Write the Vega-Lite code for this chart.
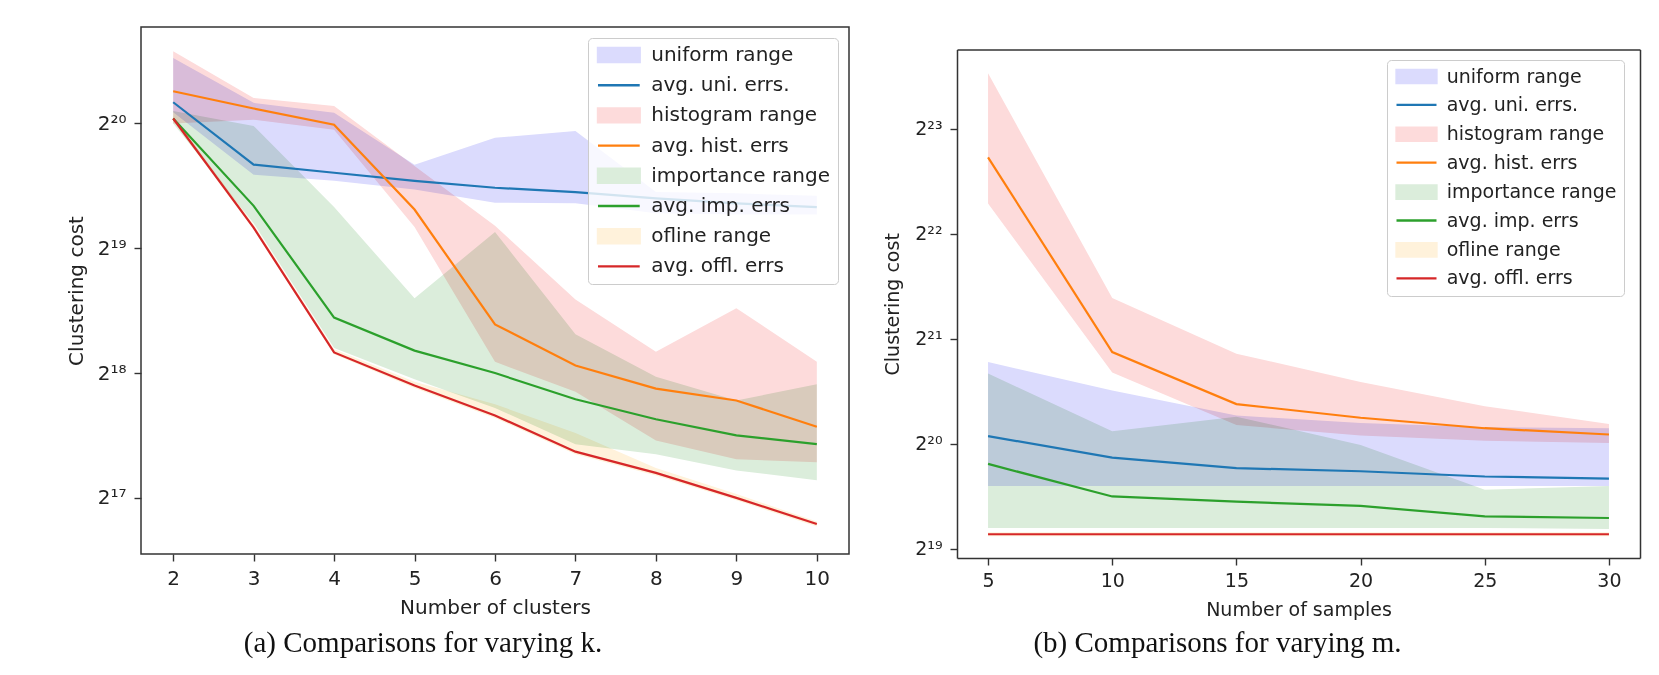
{
  "$schema": "https://vega.github.io/schema/vega-lite/v6.json",
  "background": "white",
  "padding": {"left": 65, "top": 26, "right": 5, "bottom": 5},
  "spacing": 33,
  "resolve": {"scale": {"color": "independent"}, "legend": {"color": "independent"}},
  "config": {
    "font": "DejaVu Sans",
    "view": {"stroke": "#333333", "strokeWidth": 1.5},
    "axis": {"domain": false, "grid": false, "domainColor": "#333333", "domainWidth": 1.5, "tickColor": "#333333", "tickSize": 7, "tickWidth": 1.4, "labelColor": "#222222", "titleColor": "#222222", "titleFontWeight": "normal", "labelFont": "DejaVu Sans", "titleFont": "DejaVu Sans"},
    "legend": {"title": null, "labelColor": "#222222", "labelFont": "DejaVu Sans", "labelLimit": 400, "symbolSize": 196, "padding": 7, "fillColor": "rgba(255,255,255,0.8)", "strokeColor": "#cccccc", "cornerRadius": 4},
    "title": {"font": "Liberation Serif", "fontSize": 29, "fontWeight": "normal", "color": "#111111"}
  },
  "datasets": {
    "k_ranges": [
      {"k": 2, "series": "uniform range", "log2_low": 20.09, "log2_high": 20.525},
      {"k": 3, "series": "uniform range", "log2_low": 19.59, "log2_high": 20.165},
      {"k": 4, "series": "uniform range", "log2_low": 19.54, "log2_high": 20.085},
      {"k": 5, "series": "uniform range", "log2_low": 19.47, "log2_high": 19.67},
      {"k": 6, "series": "uniform range", "log2_low": 19.365, "log2_high": 19.885},
      {"k": 7, "series": "uniform range", "log2_low": 19.36, "log2_high": 19.94},
      {"k": 8, "series": "uniform range", "log2_low": 19.28, "log2_high": 19.45},
      {"k": 9, "series": "uniform range", "log2_low": 19.27, "log2_high": 19.44},
      {"k": 10, "series": "uniform range", "log2_low": 19.27, "log2_high": 19.42},
      {"k": 2, "series": "histogram range", "log2_low": 20.0, "log2_high": 20.578},
      {"k": 3, "series": "histogram range", "log2_low": 20.03, "log2_high": 20.205},
      {"k": 4, "series": "histogram range", "log2_low": 19.95, "log2_high": 20.14},
      {"k": 5, "series": "histogram range", "log2_low": 19.17, "log2_high": 19.66},
      {"k": 6, "series": "histogram range", "log2_low": 18.09, "log2_high": 19.18},
      {"k": 7, "series": "histogram range", "log2_low": 17.85, "log2_high": 18.59},
      {"k": 8, "series": "histogram range", "log2_low": 17.46, "log2_high": 18.17},
      {"k": 9, "series": "histogram range", "log2_low": 17.31, "log2_high": 18.52},
      {"k": 10, "series": "histogram range", "log2_low": 17.285, "log2_high": 18.09},
      {"k": 2, "series": "importance range", "log2_low": 20.0, "log2_high": 20.1},
      {"k": 3, "series": "importance range", "log2_low": 19.2, "log2_high": 19.98},
      {"k": 4, "series": "importance range", "log2_low": 18.2, "log2_high": 19.33},
      {"k": 5, "series": "importance range", "log2_low": 17.95, "log2_high": 18.6},
      {"k": 6, "series": "importance range", "log2_low": 17.72, "log2_high": 19.13},
      {"k": 7, "series": "importance range", "log2_low": 17.43, "log2_high": 18.31},
      {"k": 8, "series": "importance range", "log2_low": 17.35, "log2_high": 17.97},
      {"k": 9, "series": "importance range", "log2_low": 17.22, "log2_high": 17.78},
      {"k": 10, "series": "importance range", "log2_low": 17.14, "log2_high": 17.91},
      {"k": 2, "series": "ofline range", "log2_low": 20.02, "log2_high": 20.06},
      {"k": 3, "series": "ofline range", "log2_low": 19.15, "log2_high": 19.19},
      {"k": 4, "series": "ofline range", "log2_low": 18.15, "log2_high": 18.19},
      {"k": 5, "series": "ofline range", "log2_low": 17.88, "log2_high": 17.93},
      {"k": 6, "series": "ofline range", "log2_low": 17.64, "log2_high": 17.75},
      {"k": 7, "series": "ofline range", "log2_low": 17.35, "log2_high": 17.52},
      {"k": 8, "series": "ofline range", "log2_low": 17.18, "log2_high": 17.24},
      {"k": 9, "series": "ofline range", "log2_low": 16.98, "log2_high": 17.03},
      {"k": 10, "series": "ofline range", "log2_low": 16.77, "log2_high": 16.81}
    ],
    "k_avgs": [
      {"k": 2, "series": "avg. uni. errs.", "log2_cost": 20.17},
      {"k": 3, "series": "avg. uni. errs.", "log2_cost": 19.67},
      {"k": 4, "series": "avg. uni. errs.", "log2_cost": 19.605},
      {"k": 5, "series": "avg. uni. errs.", "log2_cost": 19.54},
      {"k": 6, "series": "avg. uni. errs.", "log2_cost": 19.485},
      {"k": 7, "series": "avg. uni. errs.", "log2_cost": 19.45},
      {"k": 8, "series": "avg. uni. errs.", "log2_cost": 19.4},
      {"k": 9, "series": "avg. uni. errs.", "log2_cost": 19.36},
      {"k": 10, "series": "avg. uni. errs.", "log2_cost": 19.33},
      {"k": 2, "series": "avg. hist. errs", "log2_cost": 20.258},
      {"k": 3, "series": "avg. hist. errs", "log2_cost": 20.12},
      {"k": 4, "series": "avg. hist. errs", "log2_cost": 19.99},
      {"k": 5, "series": "avg. hist. errs", "log2_cost": 19.31},
      {"k": 6, "series": "avg. hist. errs", "log2_cost": 18.39},
      {"k": 7, "series": "avg. hist. errs", "log2_cost": 18.06},
      {"k": 8, "series": "avg. hist. errs", "log2_cost": 17.875},
      {"k": 9, "series": "avg. hist. errs", "log2_cost": 17.78},
      {"k": 10, "series": "avg. hist. errs", "log2_cost": 17.57},
      {"k": 2, "series": "avg. imp. errs", "log2_cost": 20.04},
      {"k": 3, "series": "avg. imp. errs", "log2_cost": 19.34},
      {"k": 4, "series": "avg. imp. errs", "log2_cost": 18.445},
      {"k": 5, "series": "avg. imp. errs", "log2_cost": 18.18},
      {"k": 6, "series": "avg. imp. errs", "log2_cost": 18.0},
      {"k": 7, "series": "avg. imp. errs", "log2_cost": 17.79},
      {"k": 8, "series": "avg. imp. errs", "log2_cost": 17.63},
      {"k": 9, "series": "avg. imp. errs", "log2_cost": 17.5},
      {"k": 10, "series": "avg. imp. errs", "log2_cost": 17.43},
      {"k": 2, "series": "avg. offl. errs", "log2_cost": 20.04},
      {"k": 3, "series": "avg. offl. errs", "log2_cost": 19.165},
      {"k": 4, "series": "avg. offl. errs", "log2_cost": 18.165},
      {"k": 5, "series": "avg. offl. errs", "log2_cost": 17.9},
      {"k": 6, "series": "avg. offl. errs", "log2_cost": 17.66},
      {"k": 7, "series": "avg. offl. errs", "log2_cost": 17.37},
      {"k": 8, "series": "avg. offl. errs", "log2_cost": 17.2},
      {"k": 9, "series": "avg. offl. errs", "log2_cost": 17.0},
      {"k": 10, "series": "avg. offl. errs", "log2_cost": 16.79}
    ],
    "m_ranges": [
      {"m": 5, "series": "uniform range", "log2_low": 19.6, "log2_high": 20.78},
      {"m": 10, "series": "uniform range", "log2_low": 19.6, "log2_high": 20.51},
      {"m": 15, "series": "uniform range", "log2_low": 19.6, "log2_high": 20.27},
      {"m": 20, "series": "uniform range", "log2_low": 19.6, "log2_high": 20.2},
      {"m": 25, "series": "uniform range", "log2_low": 19.6, "log2_high": 20.16},
      {"m": 30, "series": "uniform range", "log2_low": 19.6, "log2_high": 20.15},
      {"m": 5, "series": "histogram range", "log2_low": 22.29, "log2_high": 23.53},
      {"m": 10, "series": "histogram range", "log2_low": 20.68, "log2_high": 21.39},
      {"m": 15, "series": "histogram range", "log2_low": 20.18, "log2_high": 20.86},
      {"m": 20, "series": "histogram range", "log2_low": 20.08, "log2_high": 20.59},
      {"m": 25, "series": "histogram range", "log2_low": 20.03, "log2_high": 20.36},
      {"m": 30, "series": "histogram range", "log2_low": 20.01, "log2_high": 20.19},
      {"m": 5, "series": "importance range", "log2_low": 19.2, "log2_high": 20.67},
      {"m": 10, "series": "importance range", "log2_low": 19.2, "log2_high": 20.12},
      {"m": 15, "series": "importance range", "log2_low": 19.2, "log2_high": 20.26},
      {"m": 20, "series": "importance range", "log2_low": 19.2, "log2_high": 19.99},
      {"m": 25, "series": "importance range", "log2_low": 19.2, "log2_high": 19.565},
      {"m": 30, "series": "importance range", "log2_low": 19.19, "log2_high": 19.6},
      {"m": 5, "series": "ofline range", "log2_low": 19.12, "log2_high": 19.16},
      {"m": 10, "series": "ofline range", "log2_low": 19.12, "log2_high": 19.16},
      {"m": 15, "series": "ofline range", "log2_low": 19.12, "log2_high": 19.16},
      {"m": 20, "series": "ofline range", "log2_low": 19.12, "log2_high": 19.16},
      {"m": 25, "series": "ofline range", "log2_low": 19.12, "log2_high": 19.16},
      {"m": 30, "series": "ofline range", "log2_low": 19.12, "log2_high": 19.16}
    ],
    "m_avgs": [
      {"m": 5, "series": "avg. uni. errs.", "log2_cost": 20.075},
      {"m": 10, "series": "avg. uni. errs.", "log2_cost": 19.87},
      {"m": 15, "series": "avg. uni. errs.", "log2_cost": 19.77},
      {"m": 20, "series": "avg. uni. errs.", "log2_cost": 19.74},
      {"m": 25, "series": "avg. uni. errs.", "log2_cost": 19.69},
      {"m": 30, "series": "avg. uni. errs.", "log2_cost": 19.67},
      {"m": 5, "series": "avg. hist. errs", "log2_cost": 22.73},
      {"m": 10, "series": "avg. hist. errs", "log2_cost": 20.875},
      {"m": 15, "series": "avg. hist. errs", "log2_cost": 20.38},
      {"m": 20, "series": "avg. hist. errs", "log2_cost": 20.25},
      {"m": 25, "series": "avg. hist. errs", "log2_cost": 20.15},
      {"m": 30, "series": "avg. hist. errs", "log2_cost": 20.09},
      {"m": 5, "series": "avg. imp. errs", "log2_cost": 19.81},
      {"m": 10, "series": "avg. imp. errs", "log2_cost": 19.5},
      {"m": 15, "series": "avg. imp. errs", "log2_cost": 19.45},
      {"m": 20, "series": "avg. imp. errs", "log2_cost": 19.41},
      {"m": 25, "series": "avg. imp. errs", "log2_cost": 19.31},
      {"m": 30, "series": "avg. imp. errs", "log2_cost": 19.295},
      {"m": 5, "series": "avg. offl. errs", "log2_cost": 19.14},
      {"m": 10, "series": "avg. offl. errs", "log2_cost": 19.14},
      {"m": 15, "series": "avg. offl. errs", "log2_cost": 19.14},
      {"m": 20, "series": "avg. offl. errs", "log2_cost": 19.14},
      {"m": 25, "series": "avg. offl. errs", "log2_cost": 19.14},
      {"m": 30, "series": "avg. offl. errs", "log2_cost": 19.14}
    ]
  },
  "hconcat": [
    {
      "width": 708,
      "height": 527,
      "title": {"text": "(a) Comparisons for varying k.", "orient": "bottom", "anchor": "middle", "offset": 12, "dx": -72},
      "layer": [
        {
          "data": {"name": "k_ranges"},
          "mark": {"type": "area", "opacity": 1, "blend": "multiply"},
          "encoding": {
            "x": {"field": "k", "type": "quantitative", "scale": {"domain": [1.6, 10.4], "nice": false, "zero": false},
              "axis": {"title": "Number of clusters", "values": [2, 3, 4, 5, 6, 7, 8, 9, 10], "format": "d", "labelFontSize": 20, "titleFontSize": 20, "labelPadding": 7, "titlePadding": 9}},
            "y": {"field": "log2_low", "type": "quantitative", "scale": {"domain": [16.55, 20.773], "nice": false, "zero": false},
              "axis": {"title": "Clustering cost", "values": [17, 18, 19, 20], "labelExpr": "datum.value == 17 ? '2¹⁷' : datum.value == 18 ? '2¹⁸' : datum.value == 19 ? '2¹⁹' : '2²⁰'", "labelFontSize": 20, "titleFontSize": 20, "labelPadding": 8, "titlePadding": 11, "minExtent": 44, "maxExtent": 44}},
            "y2": {"field": "log2_high"},
            "color": {"field": "series", "type": "nominal",
              "scale": {"domain": ["uniform range", "avg. uni. errs.", "histogram range", "avg. hist. errs", "importance range", "avg. imp. errs", "ofline range", "avg. offl. errs"],
                        "range": ["#dbdbfd", "#1f77b4", "#fddbdb", "#ff7f0e", "#dbeddb", "#2ca02c", "#fff2db", "#d62728"]},
              "legend": {"orient": "top-right", "offset": 11, "labelFontSize": 20, "rowPadding": 8.2, "symbolOffset": 13.85, "labelOffset": 22.4,
                "encode": {"symbols": {"update": {
                  "shape": {"signal": "indexof(datum.value, 'range') >= 0 ? 'M-2.98,-1H2.98V1H-2.98Z' : 'M-2.98,0H2.98'"},
                  "strokeWidth": {"value": 2.4},
                  "opacity": {"value": 1}
                }}}}
            }
          }
        },
        {
          "data": {"name": "k_avgs"},
          "mark": {"type": "line", "strokeWidth": 2.2},
          "encoding": {
            "x": {"field": "k", "type": "quantitative", "scale": {"domain": [1.6, 10.4], "nice": false, "zero": false}},
            "y": {"field": "log2_cost", "type": "quantitative", "scale": {"domain": [16.55, 20.773], "nice": false, "zero": false}},
            "color": {"field": "series", "type": "nominal",
              "legend": {"orient": "top-right", "offset": 11, "labelFontSize": 20, "rowPadding": 8.2, "symbolOffset": 13.85, "labelOffset": 22.4,
                "encode": {"symbols": {"update": {
                  "shape": {"signal": "indexof(datum.value, 'range') >= 0 ? 'M-2.98,-1H2.98V1H-2.98Z' : 'M-2.98,0H2.98'"},
                  "strokeWidth": {"value": 2.4},
                  "opacity": {"value": 1}
                }}}}
            }
          }
        }
      ]
    },
    {
      "width": 683,
      "height": 531,
      "view": {"stroke": null},
      "title": {"text": "(b) Comparisons for varying m.", "orient": "bottom", "anchor": "middle", "offset": 10, "dx": -81},
      "resolve": {"axis": {"x": "independent", "y": "independent"}},
      "layer": [
        {
          "data": {"name": "m_ranges"},
          "mark": {"type": "area", "opacity": 1, "blend": "multiply"},
          "encoding": {
            "x": {"field": "m", "type": "quantitative", "scale": {"domain": [3.75, 31.25], "nice": false, "zero": false},
              "axis": {"orient": "bottom", "domain": true, "title": "Number of samples", "values": [5, 10, 15, 20, 25, 30], "format": "d", "labelFontSize": 19, "titleFontSize": 19, "labelPadding": 6, "titlePadding": 10}},
            "y": {"field": "log2_low", "type": "quantitative", "scale": {"domain": [18.914, 23.756], "range": [531, 22.6], "nice": false, "zero": false},
              "axis": {"orient": "left", "domain": true, "title": "Clustering cost", "values": [19, 20, 21, 22, 23], "labelExpr": "datum.value == 19 ? '2¹⁹' : datum.value == 20 ? '2²⁰' : datum.value == 21 ? '2²¹' : datum.value == 22 ? '2²²' : '2²³'", "labelFontSize": 19, "titleFontSize": 19, "labelPadding": 8, "titlePadding": 11, "minExtent": 44, "maxExtent": 44}},
            "y2": {"field": "log2_high"},
            "color": {"field": "series", "type": "nominal",
              "scale": {"domain": ["uniform range", "avg. uni. errs.", "histogram range", "avg. hist. errs", "importance range", "avg. imp. errs", "ofline range", "avg. offl. errs"],
                        "range": ["#dbdbfd", "#1f77b4", "#fddbdb", "#ff7f0e", "#dbeddb", "#2ca02c", "#fff2db", "#d62728"]},
              "legend": {"orient": "none", "legendX": 430, "legendY": 33, "labelFontSize": 19, "rowPadding": 7.4, "symbolOffset": 13, "labelOffset": 20.7,
                "encode": {"symbols": {"update": {
                  "shape": {"signal": "indexof(datum.value, 'range') >= 0 ? 'M-2.857,-0.95H2.857V0.95H-2.857Z' : 'M-2.857,0H2.857'"},
                  "strokeWidth": {"value": 2.3},
                  "opacity": {"value": 1}
                }}}}
            }
          }
        },
        {
          "data": {"name": "m_avgs"},
          "mark": {"type": "line", "strokeWidth": 2.2},
          "encoding": {
            "x": {"field": "m", "type": "quantitative", "scale": {"domain": [3.75, 31.25], "nice": false, "zero": false},
              "axis": {"orient": "top", "domain": true, "labels": false, "ticks": false, "grid": false, "title": null, "offset": -22.6, "minExtent": 0, "maxExtent": 0}},
            "y": {"field": "log2_cost", "type": "quantitative", "scale": {"domain": [18.914, 23.756], "range": [531, 22.6], "nice": false, "zero": false},
              "axis": {"orient": "right", "domain": true, "labels": false, "ticks": false, "grid": false, "title": null, "minExtent": 0, "maxExtent": 0}},
            "color": {"field": "series", "type": "nominal",
              "legend": {"orient": "none", "legendX": 430, "legendY": 33, "labelFontSize": 19, "rowPadding": 7.4, "symbolOffset": 13, "labelOffset": 20.7,
                "encode": {"symbols": {"update": {
                  "shape": {"signal": "indexof(datum.value, 'range') >= 0 ? 'M-2.857,-0.95H2.857V0.95H-2.857Z' : 'M-2.857,0H2.857'"},
                  "strokeWidth": {"value": 2.3},
                  "opacity": {"value": 1}
                }}}}
            }
          }
        }
      ]
    }
  ]
}
